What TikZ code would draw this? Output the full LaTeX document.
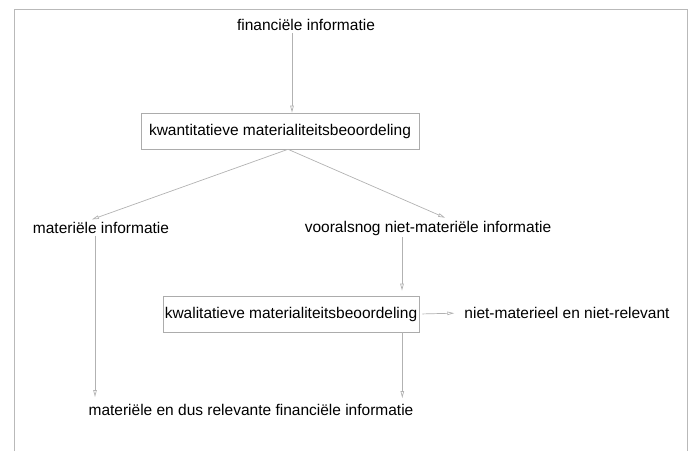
\documentclass[tikz,border=0pt]{standalone}
\usepackage{fontspec}
\setmainfont{Liberation Sans}
\usetikzlibrary{arrows.meta,positioning}

\tikzstyle{block} = [rectangle, draw=gray!65, line width=0.6pt, minimum height=36pt, inner sep=0pt, font=\fontsize{15.5}{18}\selectfont]
\tikzstyle{txt} = [inner sep=2pt, font=\fontsize{15.5}{18}\selectfont]
\tikzstyle{arr} = [draw=gray!60, line width=0.7pt, -{Triangle[open,length=7pt,width=3.5pt]}]

\begin{document}
\begin{tikzpicture}[x=1pt,y=-1pt]
        \useasboundingbox (0,0) rectangle (691,451);
        % frame round the scheme
        \draw[gray!55, line width=0.8pt] (14,451) -- (14,9) -- (687,9) -- (687,451);
        % nodes
        \node (fin) at (306,25) [txt] {financiële informatie};
        \node (kwant) at (280,131) [block, minimum width=278pt] {kwantitatieve materialiteitsbeoordeling};
        \node (mat) at (101,228) [txt] {materiële informatie};
        \node (voor) at (428,228) [txt] {vooralsnog niet-materiële informatie};
        \node (kwal) at (291,314) [block, minimum width=256pt] {kwalitatieve materialiteitsbeoordeling};
        \node (niet) at (567,313) [txt] {niet-materieel en niet-relevant};
        \node (rel) at (251,410) [txt] {materiële en dus relevante financiële informatie};
        % connectors
        \draw[arr] ([xshift=-14pt]fin.south) -- ([xshift=-14pt]fin.south |- kwant.north);
        \draw[arr, shorten >=2pt] ([xshift=8pt]kwant.south) -- ([xshift=-11pt]mat.north);
        \draw[arr, shorten >=2pt] ([xshift=8pt]kwant.south) -- ([xshift=19pt]voor.north);
        \draw[arr, shorten >=5pt] ([xshift=-6pt]mat.south) -- ([xshift=-6pt]mat.south |- rel.north);
        \draw[arr, shorten >=5pt] ([xshift=-26pt]voor.south) -- ([xshift=-26pt]voor.south |- kwal.north);
        \draw[arr, shorten >=4pt] ([xshift=-17pt]kwal.south east) -- ([xshift=-17pt]kwal.south east |- rel.north);
        \draw[arr, shorten <=3pt, shorten >=8pt] (kwal.east) -- (niet.west);
\end{tikzpicture}
\end{document}
